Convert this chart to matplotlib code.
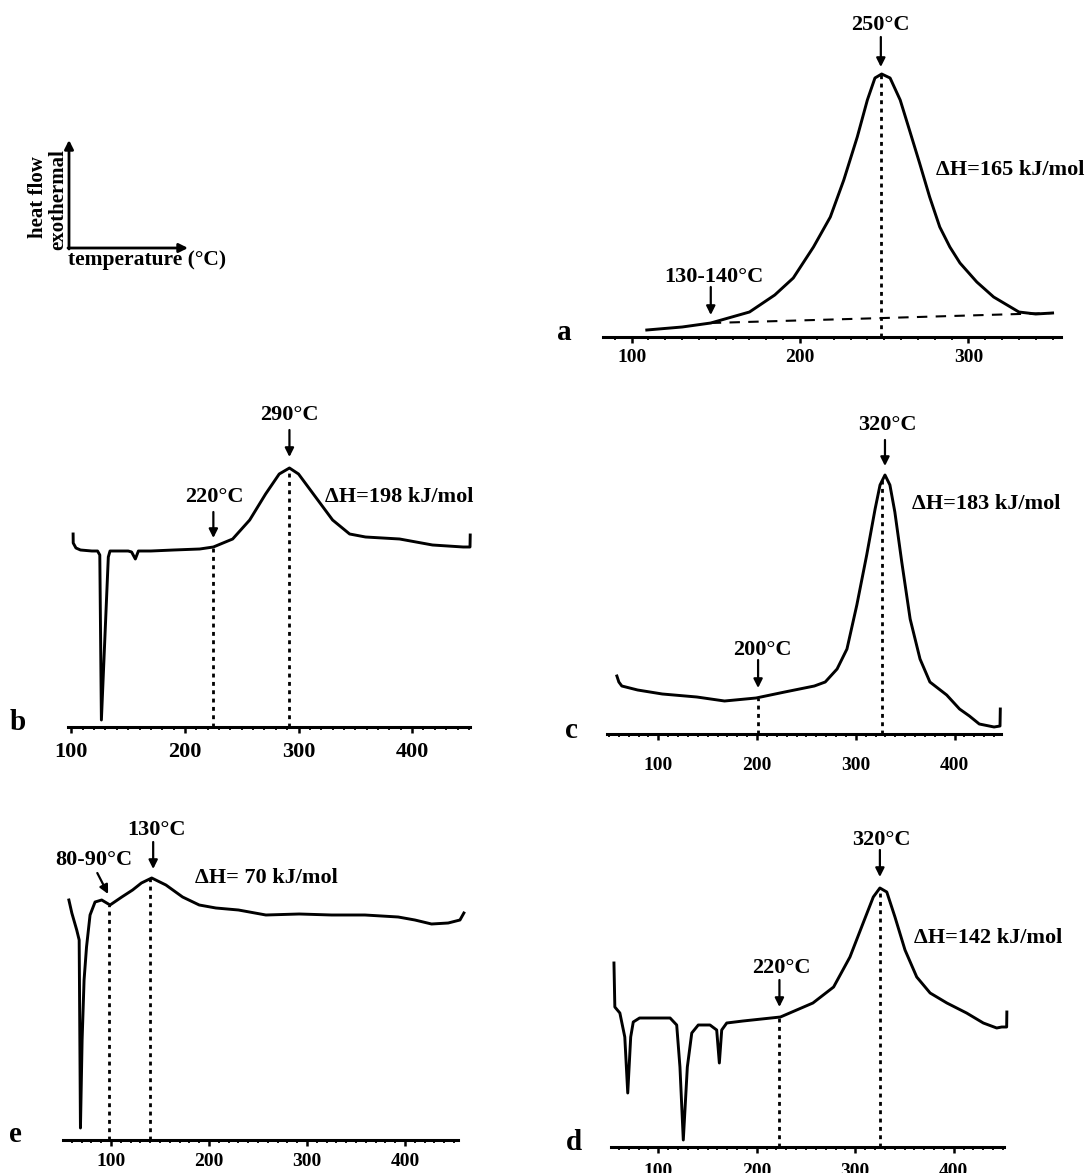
import matplotlib.pyplot as plt
from matplotlib.ticker import MultipleLocator

plt.rcParams["font.family"] = ["Liberation Serif", "DejaVu Serif"]
plt.rcParams["font.weight"] = "bold"

# heat flow is in arbitrary units (0 = temperature axis)

# --- trace a ---
a_temp = [109, 130, 147, 170, 185, 196, 208, 218, 226, 234, 240, 244.5, 248.5,
          253.5, 259.5, 265, 271, 277, 283, 289, 295, 305, 315, 330, 340, 350]
a_flow = [7, 10, 14, 25, 42, 59, 90, 120, 157, 200, 237, 259, 263,
          259, 237, 207, 174, 140, 110, 90, 74, 55, 40, 25, 23, 24]
a_base_temp = [147, 250, 350]
a_base_flow = [14, 19, 24]
a_mark_temp = [248]
a_mark_flow = [263]

# --- trace b ---
b_temp = [101.5, 101.6, 104, 108, 118, 123, 125, 126.4, 132.5, 134, 150, 153,
          156.3, 159, 170, 190, 213, 225, 242, 257, 271, 283, 292, 300, 315,
          330, 345, 359, 389, 418, 445, 451, 451.2]
b_flow = [193, 184, 179, 177, 176, 176, 172, 7, 170, 176, 176, 175,
          168, 176, 176, 177, 178, 180, 188, 207, 233, 253, 259, 253, 230,
          207, 193, 190, 188, 182, 180, 180, 192]
b_mark_temp = [225, 292]
b_mark_flow = [180, 259]

# --- trace c ---
c_temp = [58, 60, 63, 79, 104, 139, 167, 199, 228, 243, 258, 269, 281, 291,
          301, 311, 319.5, 324.5, 329.5, 334.5, 339.5, 346.5, 355, 365, 375,
          392, 405, 415, 425, 440, 446, 446.3]
c_flow = [58, 52, 48, 44, 40, 37, 33, 36, 42, 45, 48, 52, 65, 85,
          129, 179, 225, 249, 259, 249, 222, 172, 115, 75, 52,
          39, 25, 18, 10, 7, 8, 25]
c_mark_temp = [201, 326]
c_mark_flow = [36, 258]

# --- trace e ---
e_temp = [57, 60, 65, 67.5, 68.8, 70.5, 72.5, 75, 78.6, 83.7, 90.5, 99, 111,
          122, 131, 141.5, 156, 173, 190, 207, 230, 258, 292, 325, 359, 393,
          410, 427, 444, 456, 460]
e_flow = [240, 227, 210, 200, 12, 100, 160, 193, 225, 238, 240, 235, 243,
          250, 257, 262, 255, 243, 235, 232, 230, 225, 226, 225, 225, 223,
          220, 216, 217, 220, 227]
e_mark_temp = [98, 140]
e_mark_flow = [235, 262]

# --- trace d ---
d_temp = [55, 55.9, 61, 66, 69, 72, 74.6, 81, 112, 118.7, 122, 125.4, 129.5,
          134, 140.6, 152.5, 159.3, 162, 164.4, 169.5, 186, 224, 257, 278,
          294.6, 308, 318.3, 325, 332, 340.3, 350.5, 362.4, 376, 393, 413, 430,
          443.6, 448.7, 453.7, 453.9]
d_flow = [184, 140, 134, 110, 54, 110, 125, 129, 129, 122, 80, 7, 80,
          114, 122, 122, 117, 84, 117, 124, 126, 130, 144, 160,
          190, 224, 250, 259, 255, 230, 197, 170, 154, 144, 134, 124,
          119, 120, 120, 135]
d_mark_temp = [223, 325]
d_mark_flow = [130, 259]

W, H = 1087, 1173
TOP = 320
fig = plt.figure(figsize=(W / 100, H / 100), dpi=100)


def make_panel(x0, x1, y_axis, t_lo, t_hi, pad, size=14):
    # x0, x1, y_axis: where the temperature axis sits on the page (pixels)
    ax = fig.add_axes([x0 / W, 1 - y_axis / H, (x1 - x0) / W, TOP / H])
    ax.set_xlim(t_lo, t_hi)
    ax.set_ylim(0, TOP)
    for side in ("left", "right", "top"):
        ax.spines[side].set_visible(False)
    ax.spines["bottom"].set_linewidth(2.2)
    ax.set_yticks([])
    ax.xaxis.set_major_locator(MultipleLocator(100))
    ax.xaxis.set_minor_locator(MultipleLocator(10))
    ax.tick_params(axis="x", which="major", length=4, width=1.8, pad=pad,
                   labelsize=size)
    ax.tick_params(axis="x", which="minor", length=2.5, width=1.3)
    ax.patch.set_visible(False)
    return ax


def draw_trace(ax, temp, flow, mark_temp, mark_flow):
    ax.plot(temp, flow, color="k", lw=2.1, clip_on=False,
            solid_joinstyle="round")
    ax.vlines(mark_temp, 0, mark_flow, colors="k", lw=2,
              linestyles=(0, (1.4, 1.6)))


def arrow(ax, xy_from, xy_to):
    ax.annotate("", xy=xy_to, xytext=xy_from, annotation_clip=False,
                arrowprops=dict(arrowstyle="-|>", lw=1.6, color="k",
                                mutation_scale=13, shrinkA=0, shrinkB=0))


def label(ax, t, h, s, ha="center"):
    ax.text(t, h, s, ha=ha, va="center", fontsize=16)


# a
ax = make_panel(603, 1061, 337, 83, 355, 5)
draw_trace(ax, a_temp, a_flow, a_mark_temp, a_mark_flow)
ax.plot(a_base_temp, a_base_flow, color="k", lw=1.5, ls=(0, (5, 4)))
label(ax, 248, 312, "250°C")
arrow(ax, (248, 300), (248, 270))
label(ax, 149, 60, "130-140°C")
arrow(ax, (147, 50), (147, 22))
label(ax, 281, 167, "ΔH=165 kJ/mol", ha="left")

# b
ax = make_panel(68, 470, 727, 97, 451, 6.5, size=16)
draw_trace(ax, b_temp, b_flow, b_mark_temp, b_mark_flow)
label(ax, 292, 312, "290°C")
arrow(ax, (292, 297), (292, 270))
label(ax, 226, 230, "220°C")
arrow(ax, (225, 215), (225, 189))
label(ax, 323, 230, "ΔH=198 kJ/mol", ha="left")

# c
ax = make_panel(607, 1001, 734, 48, 447, 12.5)
draw_trace(ax, c_temp, c_flow, c_mark_temp, c_mark_flow)
label(ax, 332, 309, "320°C")
arrow(ax, (329.5, 294), (329.5, 268))
label(ax, 205, 84, "200°C")
arrow(ax, (201, 74), (201, 46))
label(ax, 357, 230, "ΔH=183 kJ/mol", ha="left")

# e
ax = make_panel(63, 458, 1140, 51, 454, 5)
draw_trace(ax, e_temp, e_flow, e_mark_temp, e_mark_flow)
label(ax, 146, 310, "130°C")
arrow(ax, (143, 298), (143, 271))
label(ax, 82, 280, "80-90°C")
arrow(ax, (86, 267), (97, 246))
label(ax, 186, 262, "ΔH= 70 kJ/mol", ha="left")

# d
ax = make_panel(611, 1004, 1147, 52, 451, 7.5)
draw_trace(ax, d_temp, d_flow, d_mark_temp, d_mark_flow)
label(ax, 327, 307, "320°C")
arrow(ax, (325, 297), (325, 270))
label(ax, 225, 179, "220°C")
arrow(ax, (223, 167), (223, 140))
label(ax, 360, 209, "ΔH=142 kJ/mol", ha="left")

# page overlay: axes sketch and panel letters, in pixel units
page = fig.add_axes([0, 0, 1, 1])
page.set_xlim(0, W)
page.set_ylim(H, 0)
page.axis("off")
for start, end in [((69, 249), (69, 140)), ((68, 248), (188, 248))]:
    page.annotate("", xy=end, xytext=start,
                  arrowprops=dict(arrowstyle="-|>", lw=2, color="k",
                                  mutation_scale=13, shrinkA=0, shrinkB=0))
page.text(68, 260, "temperature (°C)", ha="left", va="center", fontsize=15.5)
page.text(38, 197, "heat flow", ha="center", va="center", rotation=90,
          fontsize=15)
page.text(58, 200, "exothermal", ha="center", va="center", rotation=90,
          fontsize=15)
for x, y, s in [(564, 333, "a"), (18, 722, "b"), (571, 730, "c"),
                (15, 1134, "e"), (574, 1142, "d")]:
    page.text(x, y, s, ha="center", va="center", fontsize=21)

fig.savefig("out.png", dpi=100)
